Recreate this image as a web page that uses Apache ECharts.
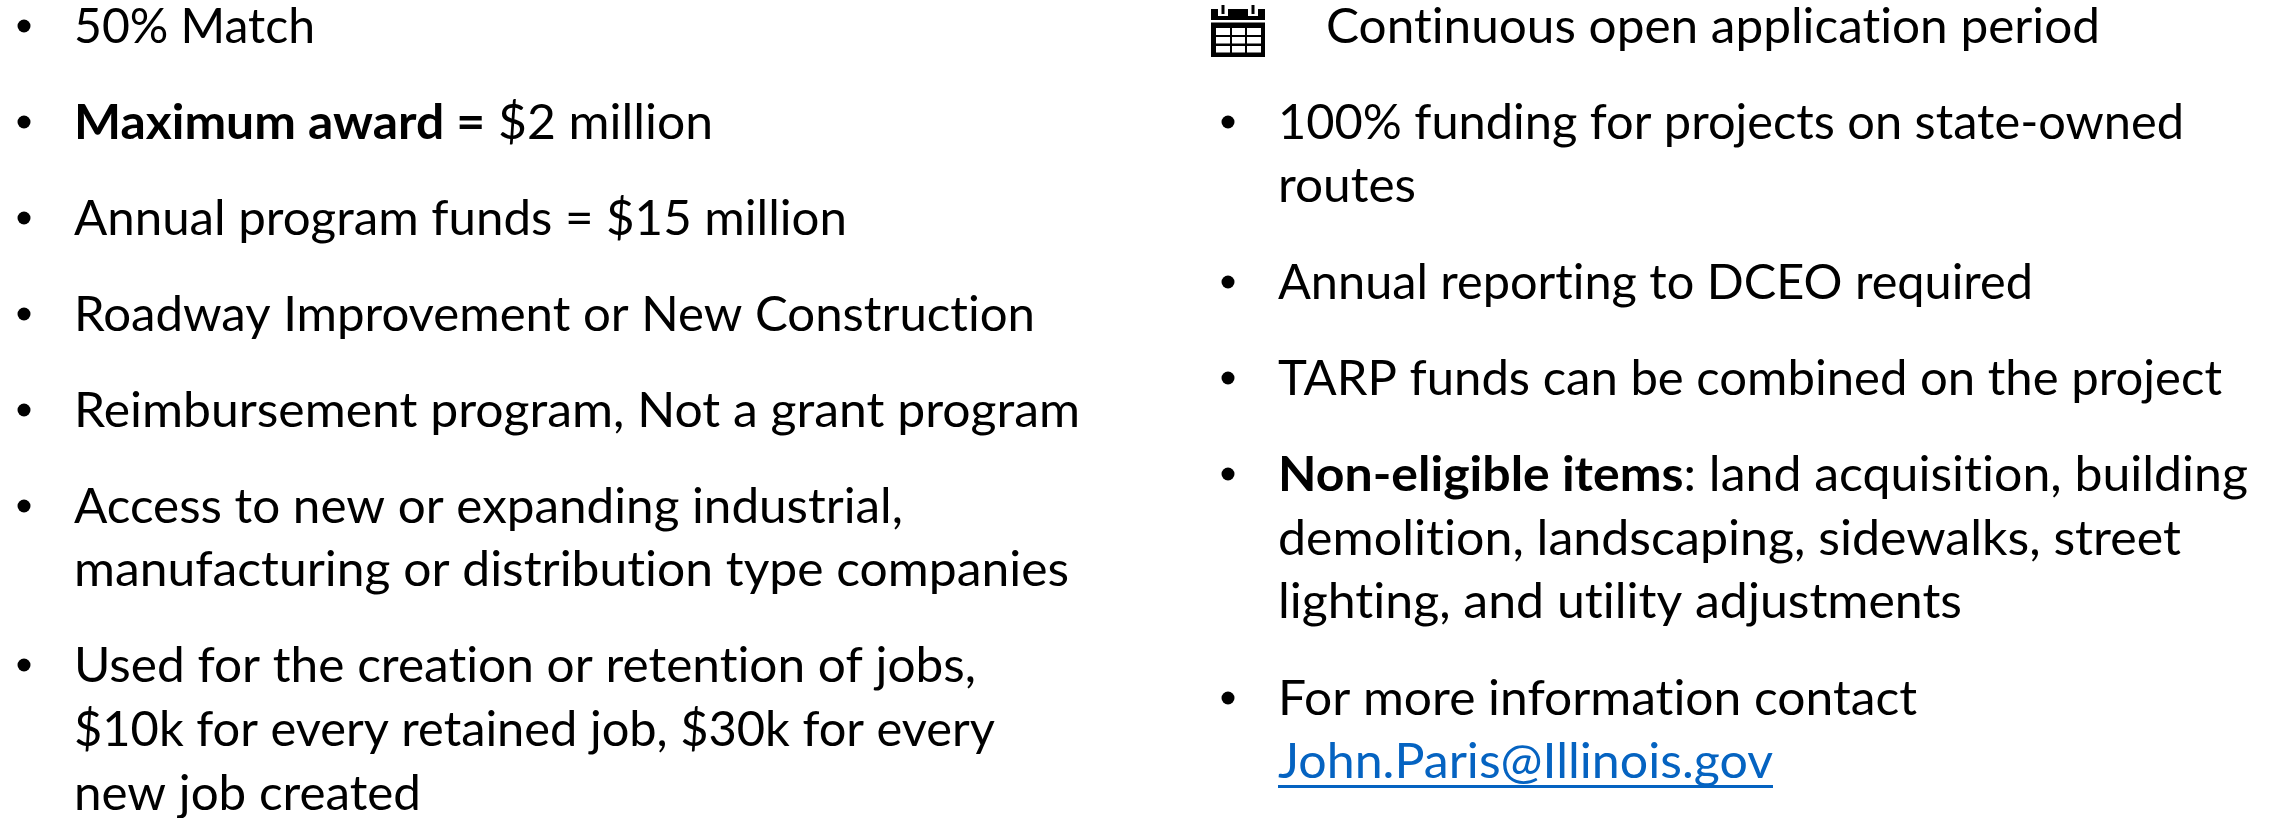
<!DOCTYPE html>
<html>
<head>
<meta charset="utf-8">
<style>html,body{margin:0;padding:0;background:#fff}#c{width:2277px;height:818px}</style>
<script src="https://cdn.jsdelivr.net/npm/echarts@6/dist/echarts.min.js"></script>
</head>
<body>
<div id="c"></div>
<script>
// Text content. Segments marked with {b|...} are bold.
const leftLines = [
  "50% Match",
  "{b|Maximum award =} $2 million",
  "Annual program funds = $15 million",
  "Roadway Improvement or New Construction",
  "Reimbursement program, Not a grant program",
  "Access to new or expanding industrial,",
  "manufacturing or distribution type companies",
  "Used for the creation or retention of jobs,",
  "$10k for every retained job, $30k for every",
  "new job created"
];
const rightHeading = "Continuous open application period";
const rightLines = [
  "100% funding for projects on state-owned",
  "routes",
  "Annual reporting to DCEO required",
  "TARP funds can be combined on the project",
  "{b|Non-eligible items}: land acquisition, building",
  "demolition, landscaping, sidewalks, street",
  "lighting, and utility adjustments",
  "For more information contact"
];
const linkText = "John.Paris@Illinois.gov";

// Layout, kept apart from the text.
const leftBulletRows = [0, 1, 2, 3, 4, 5, 7];
const rightBulletRows = [0, 2, 3, 4, 7];
const leftBaselines = [43, 139, 235, 331, 427, 523, 586, 682, 746, 810];
const leftEnds = [315, 713, 847, 1035, 1080, 903, 1069, 976, 995, 421];
const rightBaselines = [139, 202, 299, 395, 491, 555, 618, 715];
const rightEnds = [2184, 1416, 2033, 2222, 2248, 2181, 1962, 1917];
const LEFT_X = 74, RIGHT_X = 1278, HEAD_X = 1326, HEAD_END = 2100, HEAD_BASE = 43;
const LINK_BASE = 778, LINK_END = 1773;
const FONT = "Lato", SIZE = 48, MID = 0.32 * SIZE;

// The reference shows no "ti" ligatures, so every canvas draw skips them.
const proto = CanvasRenderingContext2D.prototype, nativeFill = proto.fillText;
proto.fillText = function () {
  this.textRendering = "optimizeSpeed";
  return nativeFill.apply(this, arguments);
};

const ctx = document.createElement("canvas").getContext("2d");
function measure(s) {
  let w = 0;
  s.split(/(\{b\|[^}]*\})/).forEach(part => {
    if (!part) return;
    const bold = part.startsWith("{b|");
    ctx.font = (bold ? "bold " : "") + SIZE + "px " + FONT;
    ctx.textRendering = "optimizeSpeed";
    w += ctx.measureText(bold ? part.slice(3, -1) : part).width;
  });
  return w;
}
function line(s, x, end, base, color) {
  return {
    type: "text", x: x, y: base - MID, scaleX: (end - x) / measure(s), silent: true,
    style: {
      text: s, x: 0, y: 0, fill: color || "#000", font: SIZE + "px " + FONT,
      verticalAlign: "middle", align: "left",
      rich: { b: { font: "bold " + SIZE + "px " + FONT, fill: color || "#000" } }
    }
  };
}
function bullet(cx, cy) {
  return { type: "circle", silent: true, shape: { cx: cx, cy: cy, r: 6.5 }, style: { fill: "#000" } };
}
function box(x, y, w, h, fill) {
  return { type: "rect", silent: true, shape: { x: x, y: y, width: w, height: h }, style: { fill: fill } };
}
function calendar() {
  const els = [box(1211, 9, 54, 48, "#000"), box(1211, 20, 54, 2.5, "#fff")];
  [1223, 1253].forEach(c => {
    els.push(box(c - 5, 9, 10, 7, "#fff"));
    els.push(box(c - 1.5, 5, 3, 9, "#000"));
  });
  [[1216, 14], [1232, 13], [1247, 14]].forEach(col => {
    [[28, 7], [37, 6.5], [46, 6.5]].forEach(row => {
      els.push(box(col[0], row[0], col[1], row[1], "#fff"));
    });
  });
  return els;
}

const elements = [];
leftLines.forEach((s, i) => elements.push(line(s, LEFT_X, leftEnds[i], leftBaselines[i])));
rightLines.forEach((s, i) => elements.push(line(s, RIGHT_X, rightEnds[i], rightBaselines[i])));
elements.push(line(rightHeading, HEAD_X, HEAD_END, HEAD_BASE));
elements.push(line(linkText, RIGHT_X, LINK_END, LINK_BASE, "#0563C1"));
elements.push(box(RIGHT_X, LINK_BASE + 7, LINK_END - RIGHT_X, 3, "#0563C1"));
leftBulletRows.forEach(i => elements.push(bullet(24, leftBaselines[i] - 17)));
rightBulletRows.forEach(i => elements.push(bullet(1228, rightBaselines[i] - 17)));
elements.push(...calendar());

const chart = echarts.init(document.getElementById("c"), null, { renderer: "canvas" });
chart.setOption({ backgroundColor: "#fff", animation: false, graphic: { elements: elements } });
</script>
</body>
</html>
